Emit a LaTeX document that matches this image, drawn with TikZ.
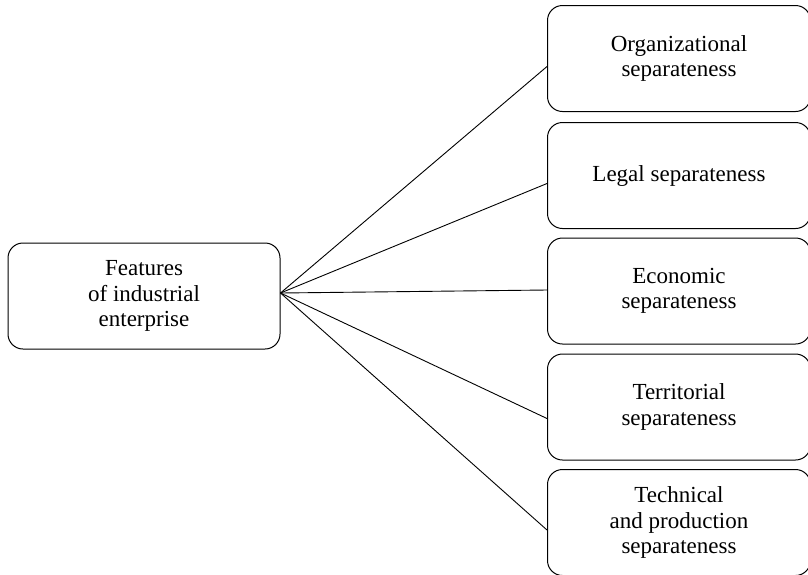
\documentclass[tikz,border=0pt]{standalone}
\usepackage{fontspec}
\setmainfont{Liberation Serif}
\begin{document}
\begin{tikzpicture}[x=1pt,y=-1pt,
  box/.style={draw, rounded corners=15pt, line width=1pt, minimum width=263pt, minimum height=106pt, align=center, inner sep=0pt, font=\fontsize{23}{25.5}\selectfont},
  link/.style={line width=0.9pt}]
\useasboundingbox (0,0) rectangle (808,574);
\clip (0,0) rectangle (808,574);
\node[box, minimum width=272pt] (L) at (144,296) {Features\\of industrial\\enterprise};
\node[box, anchor=north west] (b1) at (547,5) {Organizational\\separateness};
\node[box, anchor=north west] (b2) at (547,122) {Legal separateness};
\node[box, anchor=north west] (b3) at (547,237.5) {Economic\\separateness};
\node[box, anchor=north west] (b4) at (547,353.5) {Territorial\\separateness};
\node[box, anchor=north west] (b5) at (547,469) {Technical\\and production\\separateness};
\coordinate (src) at ([yshift=3pt]L.east);
\coordinate (e1) at ([yshift=-8pt]b1.west);
\coordinate (e2) at ([yshift=-8pt]b2.west);
\coordinate (e3) at ([yshift=1pt]b3.west);
\coordinate (e4) at ([yshift=-11.5pt]b4.west);
\coordinate (e5) at ([yshift=-7.5pt]b5.west);
\foreach \e in {e1,e2,e3,e4,e5} \draw[link] (src) -- (\e);
\end{tikzpicture}
\end{document}
